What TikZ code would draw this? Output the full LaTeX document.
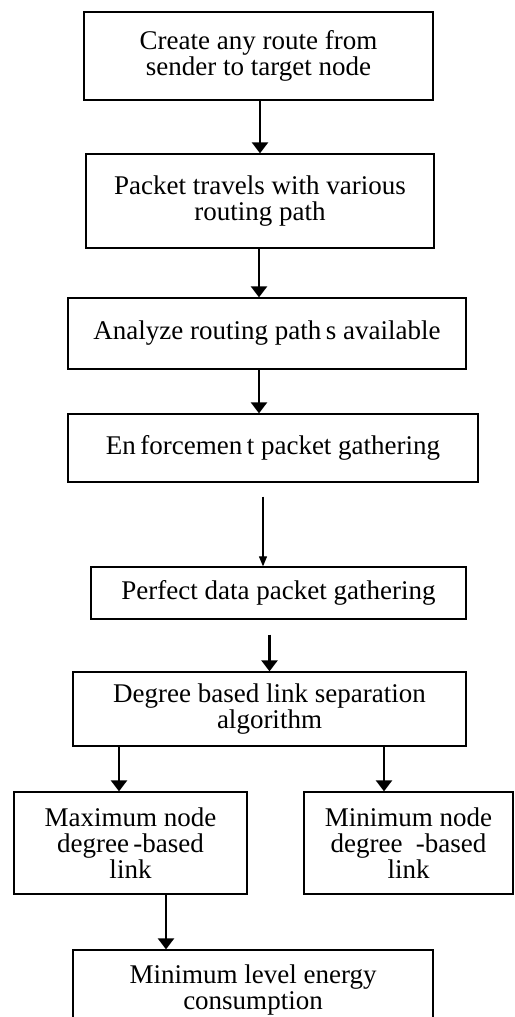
\documentclass[tikz,border=0pt]{standalone}
\usepackage{fontspec}
\setmainfont{Liberation Serif}
\usetikzlibrary{arrows.meta,calc}

\tikzset{
  box/.style={draw,line width=1.3pt,align=center,inner sep=2pt,
    font=\fontsize{27}{26}\selectfont},
  flow/.style={line width=2.4pt,-{Triangle[width=16pt,length=11pt]}},
  thinflow/.style={line width=1.1pt,-{Triangle[width=8pt,length=10pt]}}
}

\begin{document}
\begin{tikzpicture}[x=1pt,y=-1pt]
 \clip (0,0) rectangle (514,1017);
 \fill[white] (0,0) rectangle (514,1017);
 \node[box,minimum height=88pt,minimum width=349pt](create) at (258.5,56){Create any route from\\sender to target node};
 \node[box,minimum height=94pt,minimum width=348pt](travel) at (260,201){Packet travels with various\\routing path};
 \node[box,minimum height=71pt,minimum width=398pt](analyze) at (267,333.5){Analyze routing path\,s available};
 \node[box,minimum height=68pt,minimum width=410pt](enforce) at (273,448){En\,forcemen\,t packet gathering};
 \node[box,minimum height=52pt,minimum width=375pt](perfect) at (278.5,593){Perfect data packet gathering};
 \node[box,minimum height=74pt,minimum width=393pt](degree) at (269.5,709){Degree based link separation\\algorithm};
 \node[box,minimum height=102pt,minimum width=233pt](maxnode) at (130.5,843){Maximum node\\degree\,-based\\link};
 \node[box,minimum height=102pt,minimum width=209pt](minnode) at (408.5,843){Minimum node\\degree \ -based\\link};
 \node[box,minimum height=80pt,minimum width=360pt](energy) at (253,990){Minimum level energy\\consumption};

 \draw[flow] (create.south -| travel.north) -- (travel.north);
 \draw[flow] ([xshift=-1pt]travel.south) -- ([xshift=-1pt]travel.south |- analyze.north);
 \draw[flow] ([xshift=-8pt]analyze.south) -- ([xshift=-8pt]analyze.south |- enforce.north);
 \draw[thinflow] ([xshift=-10pt,yshift=-14pt]enforce.south) -- ([xshift=-10pt]enforce.south |- perfect.north);
 \draw[flow] ($(perfect.south -| degree.north)+(0,15)$) -- (degree.north);
 \draw[flow] ([xshift=-11.5pt]maxnode.north |- degree.south) -- ([xshift=-11.5pt]maxnode.north);
 \draw[flow] ([xshift=-24.5pt]minnode.north |- degree.south) -- ([xshift=-24.5pt]minnode.north);
 \draw[flow] ([xshift=35.5pt]maxnode.south) -- ([xshift=35.5pt]maxnode.south |- energy.north);
\end{tikzpicture}
\end{document}
